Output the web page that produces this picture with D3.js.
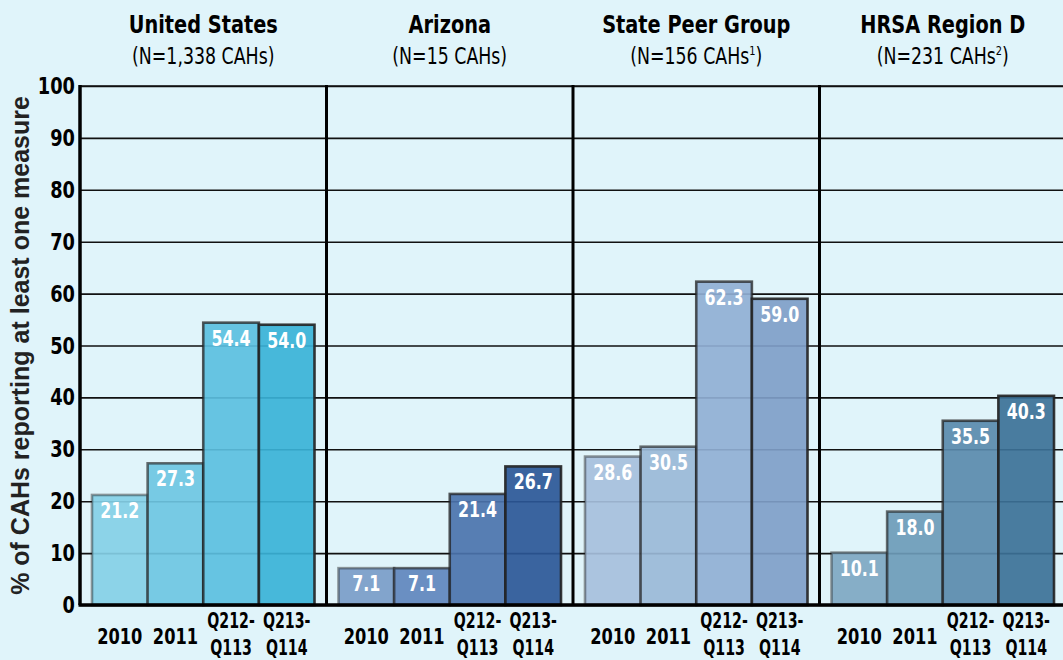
<!doctype html>
<html>
<head>
	<meta charset="utf-8">
	<title>CAHs reporting</title>
	<style>
		body { margin: 0; background: #e0f4fa; }
		svg { display: block; }
		.title { font-family: "DejaVu Sans Condensed", sans-serif; font-weight: bold; font-size: 25px; fill: #000; }
		.subtitle { font-family: "DejaVu Sans Condensed", sans-serif; font-size: 23px; fill: #000; }
		.tick-label { font-family: "DejaVu Sans Condensed", sans-serif; font-weight: bold; font-size: 23px; fill: #000; }
		.x-label { font-family: "DejaVu Sans Condensed", sans-serif; font-weight: bold; font-size: 21px; fill: #000; }
		.value { font-family: "DejaVu Sans Condensed", sans-serif; font-weight: bold; font-size: 22px; fill: #fff; }
		.y-title { font-family: "Liberation Sans", Arial, sans-serif; font-weight: bold; font-size: 25px; fill: #222; }
	</style>
</head>
<body>
	<svg width="1063" height="660"></svg>

	<script src="https://cdn.jsdelivr.net/npm/d3@7"></script>
	<script>

		// data
		const groups = [ "United States", "Arizona", "State Peer Group", "HRSA Region D" ];
		const groupNotes = [ "(N=1,338 CAHs)", "(N=15 CAHs)", "(N=156 CAHs", "(N=231 CAHs" ];
		const groupSup = [ "", "", "1", "2" ];
		const periods = [ "2010", "2011", "Q212-Q113", "Q213-Q114" ];
		const periodLines = [ [ "2010" ], [ "2011" ], [ "Q212-", "Q113" ], [ "Q213-", "Q114" ] ];
		const usValues = [ 21.2, 27.3, 54.4, 54.0 ];
		const azValues = [ 7.1, 7.1, 21.4, 26.7 ];
		const peerValues = [ 28.6, 30.5, 62.3, 59.0 ];
		const regionValues = [ 10.1, 18.0, 35.5, 40.3 ];
		const yTicks = [ 0, 10, 20, 30, 40, 50, 60, 70, 80, 90, 100 ];

		const colors = [
			[ "#84cfe6", "#6ec6e2", "#5bbfdf", "#3ab2d7" ],
			[ "#7a9cc8", "#5f86bd", "#4b73ad", "#2b5797" ],
			[ "#a6bfdc", "#9ab8d7", "#90afd4", "#7f9ec8" ],
			[ "#7ea7c2", "#6d9bb8", "#5a8aac", "#3c7197" ]
		];
		const strokeOpacity = [ 0.45, 0.65, 0.75, 0.9 ];

		const allValues = [ usValues, azValues, peerValues, regionValues ];

		const svg = d3.select( "svg" );
		const plotLeft = 80, plotRight = 1066, plotTop = 86, plotBottom = 605;

		// narrow the condensed font further (no Myriad Condensed here)
		function squeeze( sel, f ) {
			sel.each( function( d ) {
				const t = d3.select( this );
				const k = ( typeof f === "function" ) ? f( d ) : f;
				const x = +t.attr( "x" ) || 0, yy = +t.attr( "y" ) || 0;
				t.attr( "x", 0 ).attr( "y", 0 )
					.attr( "transform", "translate(" + x + "," + yy + ") scale(" + k + ",1)" );
				t.selectAll( "tspan[x]" ).attr( "x", 0 );
			});
		}

		const y = d3.scaleLinear()
				.domain( [ 0, 100 ] )
				.range( [ plotBottom, plotTop ] );

		const xGroup = d3.scaleBand()
				.domain( groups )
				.range( [ plotLeft, plotRight ] );

		const xBar = d3.scaleBand()
				.domain( periods )
				.range( [ 12, xGroup.bandwidth() - 12 ] );

		// grid lines
		svg.append( "g" )
			.attr( "transform", "translate(" + plotLeft + ",0)" )
			.call( d3.axisLeft( y ).tickValues( yTicks ).tickSize( -( plotRight - plotLeft ) ).tickFormat( "" ) )
			.call( g => g.select( ".domain" ).remove() )
			.call( g => g.selectAll( "line" ).attr( "stroke", "#111" ).attr( "stroke-width", 1.6 ) );

		// tick labels
		svg.append( "g" )
			.selectAll( "text" )
			.data( yTicks )
			.enter().append( "text" )
				.attr( "class", "tick-label" )
				.attr( "x", 75 )
				.attr( "y", d => y( d ) + 8 )
				.attr( "text-anchor", "end" )
				.text( d => d )
				.call( squeeze, 0.86 );

		// panels
		const panel = svg.selectAll( ".panel" )
			.data( groups )
			.enter().append( "g" )
				.attr( "class", "panel" )
				.attr( "transform", d => "translate(" + xGroup( d ) + ",0)" );

		panel.each( function( name, gi ) {
			const p = d3.select( this );
			const rows = allValues[ gi ].map( ( v, i ) => ( { period: periods[ i ], value: v, i: i } ) );

			p.selectAll( "rect" )
				.data( rows )
				.enter().append( "rect" )
					.attr( "x", d => xBar( d.period ) )
					.attr( "y", d => y( d.value ) )
					.attr( "width", xBar.bandwidth() )
					.attr( "height", d => y( 0 ) - y( d.value ) )
					.attr( "fill", d => colors[ gi ][ d.i ] )
					.attr( "fill-opacity", 0.92 )
					.attr( "stroke", "#222" )
					.attr( "stroke-opacity", d => strokeOpacity[ d.i ] )
					.attr( "stroke-width", 2.6 );

			p.selectAll( ".value" )
				.data( rows )
				.enter().append( "text" )
					.attr( "class", "value" )
					.attr( "x", d => xBar( d.period ) + xBar.bandwidth() / 2 )
					.attr( "y", d => y( d.value ) + 23 )
					.attr( "text-anchor", "middle" )
					.text( d => d.value.toFixed( 1 ) )
					.call( squeeze, 0.8 );

			// period labels
			const lab = p.selectAll( ".x-label" )
				.data( rows )
				.enter().append( "text" )
					.attr( "class", "x-label" )
					.attr( "text-anchor", "middle" )
					.attr( "x", d => xBar( d.period ) + xBar.bandwidth() / 2 );

			lab.each( function( d ) {
				const lines = periodLines[ d.i ];
				const t = d3.select( this );
				if ( lines.length === 1 ) {
					t.attr( "y", 644 ).text( lines[ 0 ] );
				} else {
					t.attr( "y", 628 );
					lines.forEach( ( l, k ) => {
						t.append( "tspan" )
							.attr( "x", 0 )
							.attr( "dy", k === 0 ? 0 : 27 )
							.text( l );
					});
				}
			});
			lab.call( squeeze, d => periodLines[ d.i ].length === 1 ? 0.86 : 0.75 );

			// titles
			p.append( "text" )
				.attr( "class", "title" )
				.attr( "x", xGroup.bandwidth() / 2 )
				.attr( "y", 33 )
				.attr( "text-anchor", "middle" )
				.text( name )
				.call( squeeze, 0.86 );

			const sub = p.append( "text" )
				.attr( "class", "subtitle" )
				.attr( "x", xGroup.bandwidth() / 2 )
				.attr( "y", 64 )
				.attr( "text-anchor", "middle" );
			sub.append( "tspan" ).text( groupNotes[ gi ] );
			if ( groupSup[ gi ] ) {
				sub.append( "tspan" ).attr( "dy", -9 ).attr( "font-size", "13px" ).text( groupSup[ gi ] );
				sub.append( "tspan" ).attr( "dy", 9 ).text( ")" );
			}
			sub.call( squeeze, 0.84 );
		});

		// top border, dividers, axis, baseline
		svg.append( "line" )
			.attr( "x1", plotLeft ).attr( "x2", plotRight )
			.attr( "y1", y( 100 ) ).attr( "y2", y( 100 ) )
			.attr( "stroke", "#111" ).attr( "stroke-width", 1.6 );

		svg.selectAll( ".divider" )
			.data( groups )
			.enter().append( "line" )
				.attr( "class", "divider" )
				.attr( "x1", d => xGroup( d ) )
				.attr( "x2", d => xGroup( d ) )
				.attr( "y1", y( 100 ) - 1 )
				.attr( "y2", y( 0 ) )
				.attr( "stroke", "#000" )
				.attr( "stroke-width", d => d === groups[ 0 ] ? 3.5 : 3 );

		svg.append( "line" )
			.attr( "x1", plotLeft - 1.5 ).attr( "x2", plotRight )
			.attr( "y1", y( 0 ) ).attr( "y2", y( 0 ) )
			.attr( "stroke", "#000" ).attr( "stroke-width", 3.5 );

		// y title
		svg.append( "text" )
			.attr( "class", "y-title" )
			.attr( "transform", "translate(29," + ( ( plotTop + plotBottom ) / 2 ) + ") rotate(-90)" )
			.attr( "text-anchor", "middle" )
			.text( "% of CAHs reporting at least one measure" );

	</script>
</body>
</html>
